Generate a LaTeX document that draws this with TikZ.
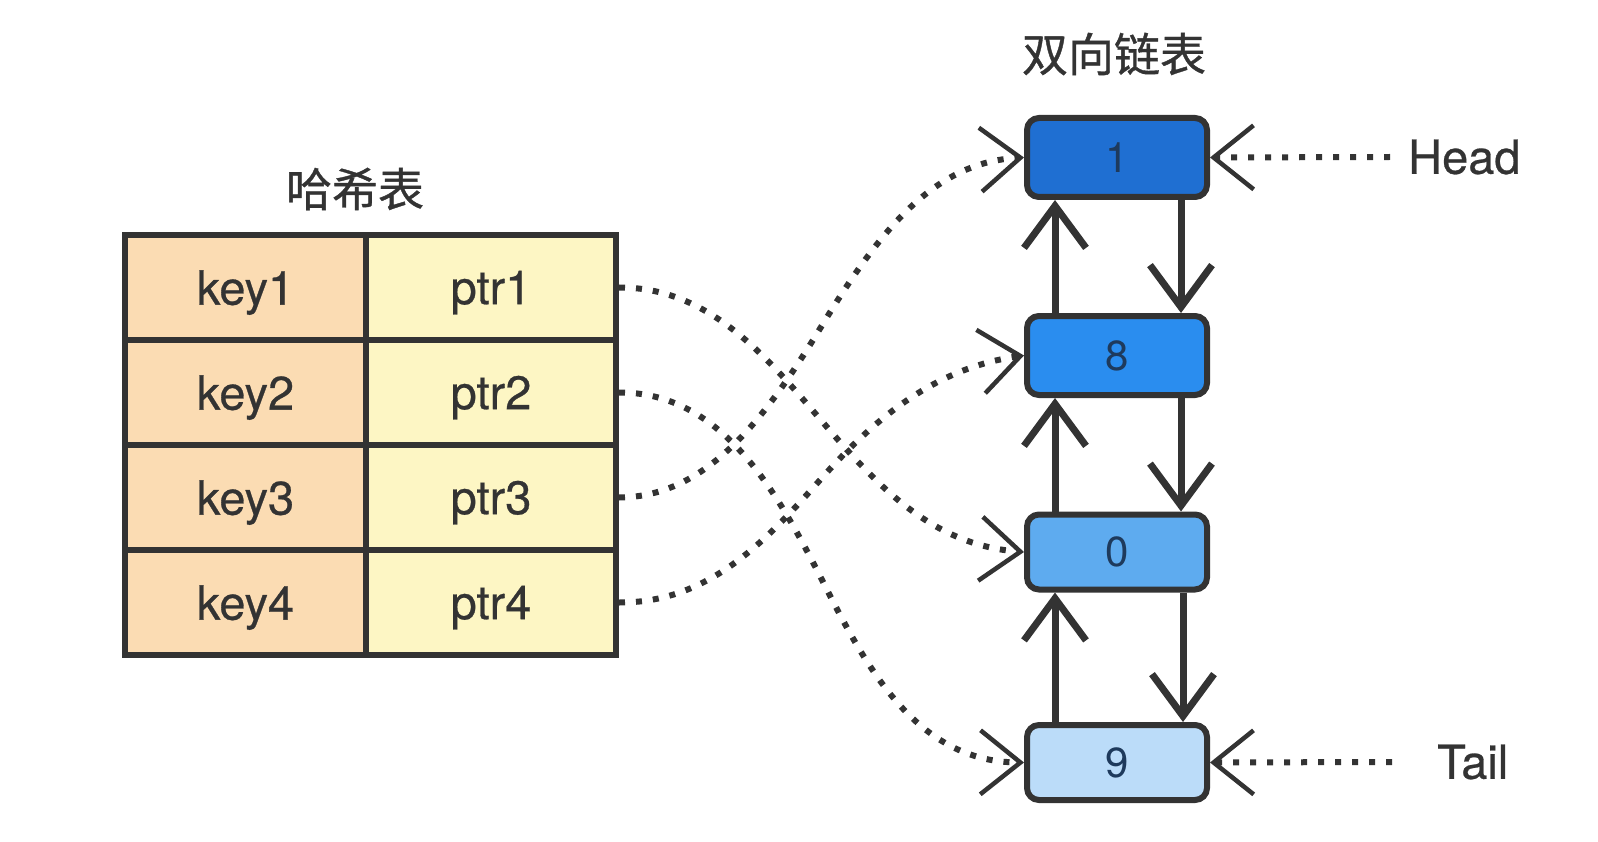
\documentclass[tikz,border=0pt]{standalone}
\usepackage{fontspec}
\setmainfont{TeX Gyre Heros}
\newfontfamily\medfont{TeX Gyre Heros}[FakeBold=0.6]
\newfontfamily\cjk{Noto Sans CJK SC}[FakeBold=0.8]
\usetikzlibrary{arrows.meta}
\definecolor{ink}{HTML}{333333}
\definecolor{keyfill}{HTML}{FBDCB3}
\definecolor{ptrfill}{HTML}{FDF6C4}
\definecolor{nodeA}{HTML}{1F6FD2}
\definecolor{nodeB}{HTML}{2A8DEF}
\definecolor{nodeC}{HTML}{5EABEF}
\definecolor{nodeD}{HTML}{BBDCF9}
\definecolor{digit}{HTML}{1E3A5C}
\begin{document}
\begin{tikzpicture}[x=1pt,y=-1pt,
  cell/.style={draw=ink, line width=6pt, minimum height=105pt, inner sep=0pt,
    text depth=0pt, font=\medfont\fontsize{47}{52}\selectfont, text=ink},
  keycell/.style={cell, fill=keyfill, minimum width=241pt},
  ptrcell/.style={cell, fill=ptrfill, minimum width=250pt},
  listbox/.style={draw=ink, line width=6pt, rounded corners=12pt, minimum width=180pt,
    inner sep=0pt, font=\fontsize{42}{48}\selectfont, text=digit},
  title/.style={font=\cjk\fontsize{46}{52}\selectfont, text=ink, inner sep=0pt},
  label/.style={font=\medfont\fontsize{47}{52}\selectfont, text=ink, inner sep=0pt, anchor=west},
  linkarrow/.style={draw=ink, line width=7pt, -{Straight Barb[length=42pt,width=62pt]}},
  dotarrow/.style={draw=ink, line width=6pt, dash pattern=on 6pt off 11pt,
    -{Straight Barb[length=40pt,width=64pt,line width=4.5pt]}}
]
\useasboundingbox (0,0) rectangle (1598,842);

% titles
\node[title] (tHash) at (355,189) {哈希表};
\node[title] (tList) at (1114,54) {双向链表};

% hash table
\node[keycell] (k1) at (245.5,287.5) {key1};
\node[keycell] (k2) at (245.5,392.5) {key2};
\node[keycell] (k3) at (245.5,497.5) {key3};
\node[keycell] (k4) at (245.5,602.5) {key4};
\node[ptrcell] (p1) at (491,287.5) {ptr1};
\node[ptrcell] (p2) at (491,392.5) {ptr2};
\node[ptrcell] (p3) at (491,497.5) {ptr3};
\node[ptrcell] (p4) at (491,602.5) {ptr4};

% linked list
\node[listbox, fill=nodeA, minimum height=79pt] (n1) at (1117,157.5) {1};
\node[listbox, fill=nodeB, minimum height=79pt] (n8) at (1117,355.5) {8};
\node[listbox, fill=nodeC, minimum height=75pt] (n0) at (1117,552) {0};
\node[listbox, fill=nodeD, minimum height=75pt] (n9) at (1117,762.5) {9};

\coordinate (ux) at (1055,0);
\coordinate (dx) at (1181,0);
\coordinate (dx2) at (1183,0);

\draw[linkarrow] (n8.north -| ux) -- (n1.south -| ux);
\draw[linkarrow] (n0.north -| ux) -- (n8.south -| ux);
\draw[linkarrow] (n9.north -| ux) -- (n0.south -| ux);
\draw[linkarrow] (n1.south -| dx) -- (n8.north -| dx);
\draw[linkarrow] (n8.south -| dx) -- (n0.north -| dx);
\draw[linkarrow] (n0.south -| dx2) -- (n9.north -| dx2);

% head / tail
\node[label] (head) at (1408,157) {Head};
\node[label] (tail) at (1437,762) {Tail};
\coordinate (hs) at (1390,157);
\coordinate (ts) at (1392,762);
\draw[dotarrow] (hs) -- (n1.east);
\draw[dotarrow] (ts) -- (n9.east);

% pointers
\draw[dotarrow] (p1.east) .. controls (708,287) and (765,355) .. (820,419)
  .. controls (875,483) and (930,545) .. (n0.west);
\draw[dotarrow] (p2.east) .. controls (720,392) and (775,488) .. (820,576)
  .. controls (865,665) and (915,762) .. (n9.west);
\draw[dotarrow] (p3.east) .. controls (703,497) and (761,426) .. (821,327)
  .. controls (881,228) and (935,162) .. (n1.west);
\draw[dotarrow] (p4.east) .. controls (708,603) and (765,542) .. (820,480)
  .. controls (875,418) and (935,368) .. (n8.west);
\end{tikzpicture}
\end{document}
